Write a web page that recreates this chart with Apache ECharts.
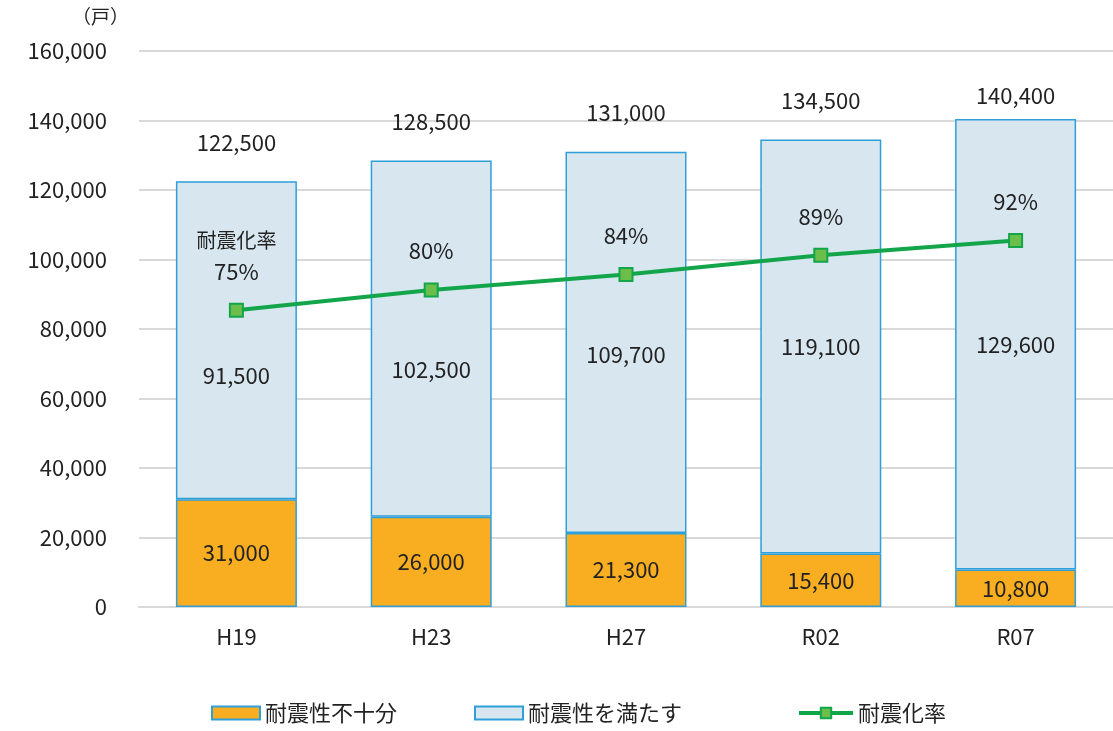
<!DOCTYPE html>
<html><head><meta charset="utf-8">
<script src="https://cdn.jsdelivr.net/npm/echarts@6/dist/echarts.min.js"></script>
<style>html,body{margin:0;padding:0;background:#fff}#c{width:1113px;height:731px}</style>
</head><body><div id="c"></div>
<script>
const categories = ['H19', 'H23', 'H27', 'R02', 'R07'];
const insufficient = [31000, 26000, 21300, 15400, 10800];
const sufficient = [91500, 102500, 109700, 119100, 129600];
const totals = [122500, 128500, 131000, 134500, 140400];
const rates = [74.7, 79.8, 83.7, 88.55, 92.3];
const rateLabels = ['75%', '80%', '84%', '89%', '92%'];
const yTicks = [0, 20000, 40000, 60000, 80000, 100000, 120000, 140000, 160000];
const seriesNames = ['耐震性不十分', '耐震性を満たす', '耐震化率'];

const suffLabelOffsets = [35, 31, 12, 0, 0];
const totalLabelOffsets = [0, 0, 0, 0, 16];
const FONT = '"Noto Sans CJK JP", "Noto Sans", sans-serif';
const FS = 22;
const TXT = '#222';
const fmt = v => v.toLocaleString('en-US');
const legendText = {fontSize: FS, color: TXT, fontFamily: FONT};

const chart = echarts.init(document.getElementById('c'), null, {renderer: 'canvas'});
chart.setOption({
  animation: false,
  textStyle: {fontFamily: FONT, color: TXT},
  grid: {left: 139, right: -6, top: 51, bottom: 124, containLabel: false},
  graphic: [{type: 'text', left: 72, top: 7, style: {text: '（戸）', font: '19px ' + FONT, fill: TXT}}],
  legend: [
    {data: [{name: seriesNames[0], icon: 'rect'}], bottom: 2, left: 206, itemWidth: 48, itemHeight: 13, textStyle: legendText},
    {data: [{name: seriesNames[1], icon: 'rect'}], bottom: 2, left: 469, itemWidth: 48, itemHeight: 13, textStyle: legendText},
    {data: [seriesNames[2]], bottom: 2, left: 792, itemWidth: 54, itemHeight: 13, textStyle: legendText,
     lineStyle: {width: 4}}
  ],
  xAxis: {
    type: 'category', data: categories,
    axisLine: {lineStyle: {color: '#d9d9d9', width: 2}}, axisTick: {show: false},
    axisLabel: {fontSize: FS, color: TXT, margin: 19}
  },
  yAxis: [{
    type: 'value', min: yTicks[0], max: yTicks[yTicks.length - 1], interval: 20000,
    axisLine: {show: false}, axisTick: {show: false},
    splitLine: {lineStyle: {color: '#d9d9d9', width: 2}},
    axisLabel: {fontSize: FS, color: TXT, margin: 32, formatter: v => fmt(v)}
  }, {
    type: 'value', min: 0, max: 140, show: false, splitLine: {show: false}
  }],
  series: [{
    name: seriesNames[0], type: 'bar', stack: 's', barWidth: 121,
    data: insufficient,
    itemStyle: {color: '#F9AE21', borderColor: '#2E9FD8', borderWidth: 1.5},
    label: {show: true, position: 'inside', fontSize: FS, color: TXT, formatter: p => fmt(p.value)}
  }, {
    name: seriesNames[1], type: 'bar', stack: 's', barWidth: 121,
    data: sufficient.map((v, i) => ({value: v, label: {offset: [0, suffLabelOffsets[i]]}})),
    itemStyle: {color: '#D7E6EF', borderColor: '#2E9FD8', borderWidth: 1.5},
    label: {show: true, position: 'inside', fontSize: FS, color: TXT, formatter: p => fmt(p.value)}
  }, {
    name: 'total', type: 'line', symbol: 'circle', symbolSize: 2, silent: true,
    data: totals.map((v, i) => ({value: v, label: {offset: [0, totalLabelOffsets[i]]}})),
    showSymbol: true,
    itemStyle: {color: 'rgba(0,0,0,0)', borderWidth: 0},
    lineStyle: {color: 'rgba(0,0,0,0)', width: 0},
    label: {show: true, position: 'top', distance: 27, fontSize: FS, color: TXT, formatter: p => fmt(p.value)},
    z: 5
  }, {
    name: seriesNames[2], type: 'line', yAxisIndex: 1, data: rates,
    symbol: 'rect', symbolSize: 13,
    lineStyle: {color: '#12A54A', width: 4},
    itemStyle: {color: '#6CBE4B', borderColor: '#12A54A', borderWidth: 2},
    label: {
      show: true, position: 'top', distance: 16, fontSize: FS, color: TXT, lineHeight: 31,
      formatter: p => (p.dataIndex === 0 ? '{s|耐震化率}\n' : '') + rateLabels[p.dataIndex],
      rich: {s: {fontSize: 20, color: TXT, lineHeight: 31, fontFamily: FONT}}
    },
    z: 10
  }]
});
</script>
</body></html>
